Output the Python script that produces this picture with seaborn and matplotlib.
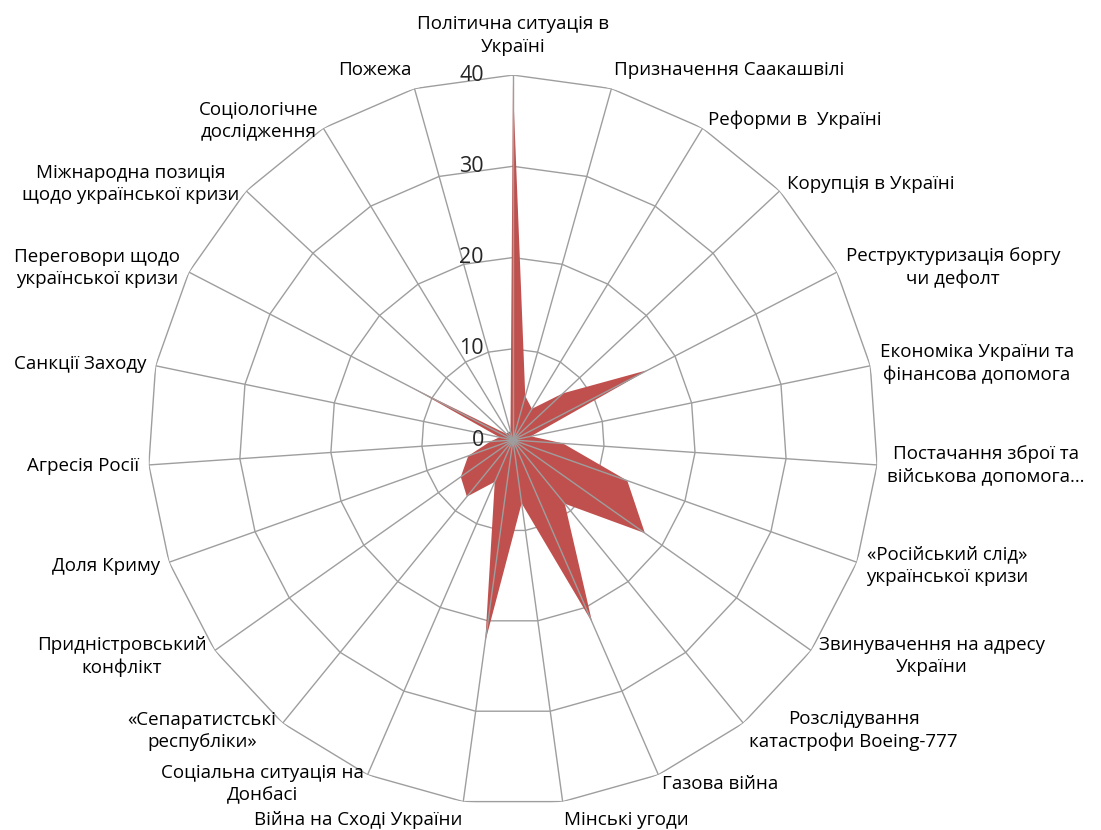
import numpy as np
import pandas as pd
import matplotlib
matplotlib.use("Agg")
import matplotlib.pyplot as plt
import seaborn as sns

# categories clockwise from the top
categories = [
    "Політична ситуація в\nУкраїні",
    "Призначення Саакашвілі",
    "Реформи в  Україні",
    "Корупція в Україні",
    "Реструктуризація боргу\nчи дефолт",
    "Економіка України та\nфінансова допомога",
    "Постачання зброї та\nвійськова допомога…",
    "«Російський слід»\nукраїнської кризи",
    "Звинувачення на адресу\nУкраїни",
    "Розслідування\nкатастрофи Boeing-777",
    "Газова війна",
    "Мінські угоди",
    "Війна на Сході України",
    "Соціальна ситуація на\nДонбасі",
    "«Сепаратистські\nреспубліки»",
    "Придністровський\nконфлікт",
    "Доля Криму",
    "Агресія Росії",
    "Санкції Заходу",
    "Переговори щодо\nукраїнської кризи",
    "Міжнародна позиція\nщодо української кризи",
    "Соціологічне\nдослідження",
    "Пожежа",
]
values = [39, 5, 4, 7.5, 16.7, 2, 5.5, 13.3, 17.7, 9, 21.8, 7, 22.3,
          5, 8, 7, 5.2, 2.5, 1.5, 12.8, 1, 1, 1]
ring_levels = [10, 20, 30, 40]
tick_labels = ["0", "10", "20", "30", "40"]

fill_color = "#C0504D"
grid_color = "#9E9E9E"

sns.set_theme(style="white")
plt.rcParams['font.family'] = ['Open Sans', 'DejaVu Sans']

n = len(categories)
df = pd.DataFrame({
    "category": categories,
    "value": values,
    "angle": np.linspace(0, 2 * np.pi, n, endpoint=False),
})
closed = pd.concat([df, df.iloc[:1]], ignore_index=True)
rmax = ring_levels[-1]

fig = plt.figure(figsize=(11.01, 8.30), dpi=100)
ax = fig.add_axes([0.1344, 0.0301, 0.663, 0.8795], projection="polar")
ax.set_theta_offset(np.pi / 2)
ax.set_theta_direction(-1)
ax.set_ylim(0, rmax)
ax.grid(False)
ax.spines["polar"].set_visible(False)
ax.set_xticks([])
ax.set_yticks([])

# polygon rings (behind the series)
for lvl in ring_levels:
    ax.plot(closed["angle"], [lvl] * len(closed), color=grid_color, lw=1, zorder=1)

# series
ax.fill(closed["angle"], closed["value"], color=fill_color, lw=0, zorder=2)

# spokes over the series
for a in df["angle"]:
    ax.plot([a, a], [0, rmax], color=grid_color, lw=1, zorder=3)

# radial value labels
for lvl, lab in zip([0] + ring_levels, tick_labels):
    ax.annotate(lab, xy=(0, lvl), xytext=(-21, 0), textcoords="offset points",
                ha="right", va="center", fontsize=15.5, color="#262626",
                annotation_clip=False)

# category labels
for a, lab in zip(df["angle"], df["category"]):
    phi = np.pi / 2 - a
    c, s = np.cos(phi), np.sin(phi)
    ha = "left" if c > 0.1 else ("right" if c < -0.1 else "center")
    pad = 7
    if s > 0.95:
        va = "bottom"
        if ha == "center":
            pad = 14
    elif s < -0.95:
        va = "top"
    else:
        va = "center"
    ax.annotate(lab, xy=(a, rmax), xytext=(pad * c, pad * s),
                textcoords="offset points", ha=ha, va=va,
                multialignment="center", fontsize=13.5, color="black",
                linespacing=1.3, annotation_clip=False)

fig.savefig("out.png", dpi=100)
